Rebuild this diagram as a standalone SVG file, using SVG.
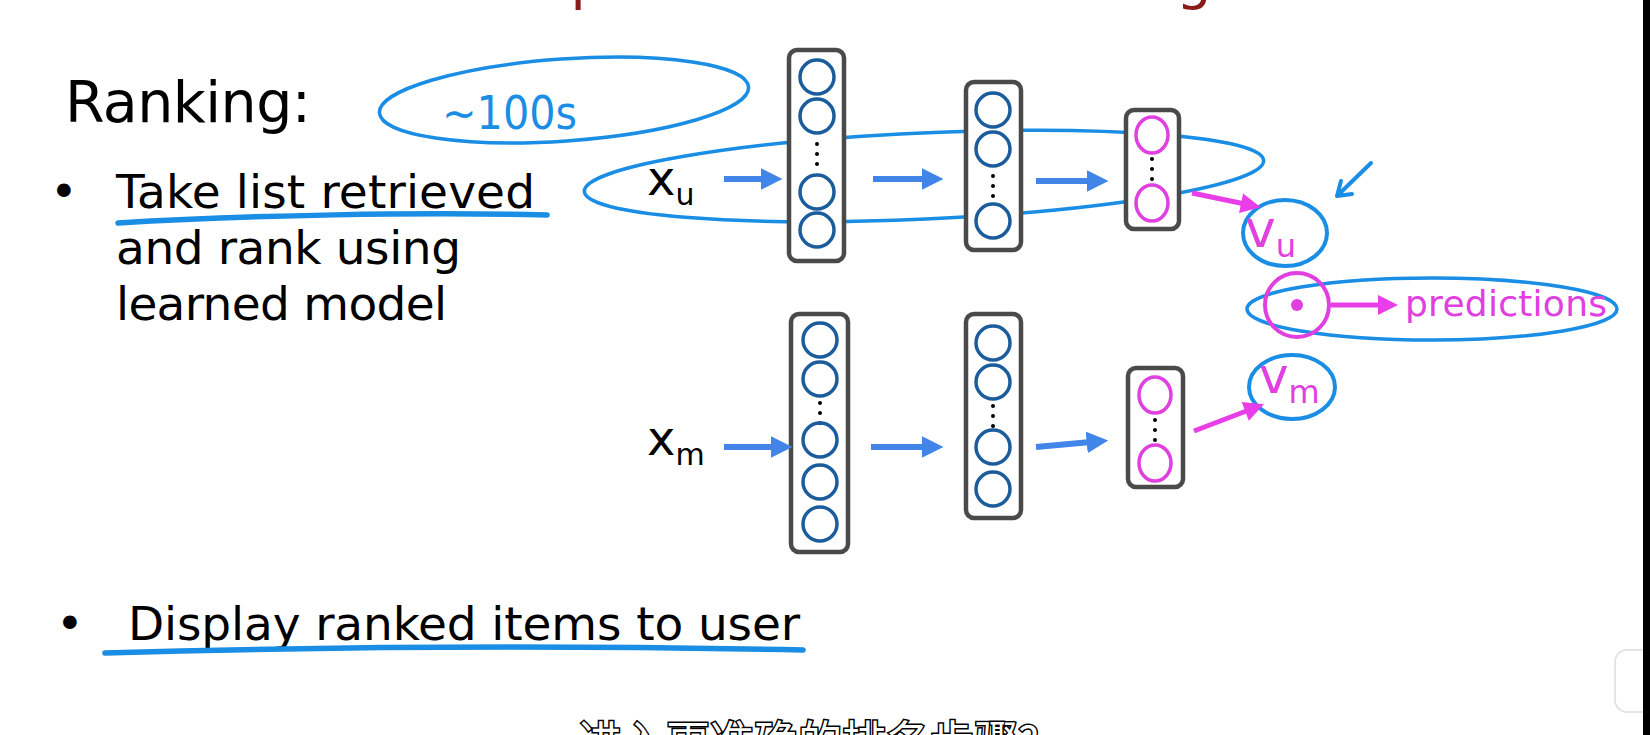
<svg xmlns="http://www.w3.org/2000/svg" width="1650" height="735" viewBox="0 0 1650 735">
<style>
.txt{font-family:"DejaVu Sans","Liberation Sans",sans-serif;fill:#000}
.box{fill:#fff;stroke:#4a4a4a;stroke-width:4.5}
.nb{fill:none;stroke:#1a5c9c;stroke-width:3.5}
.nm{fill:none;stroke:#e040e0;stroke-width:3.5}
.dot{fill:#000}
.ink{fill:none;stroke:#1a8de4;stroke-width:3.5;stroke-linecap:round}
.hl{fill:none;stroke:#1a8de4;stroke-width:5.5;stroke-linecap:round}
.ab{fill:none;stroke:#4285e8;stroke-width:6}
.am{fill:none;stroke:#e83ee8;stroke-width:5}
.mg{font-family:"DejaVu Sans","Liberation Sans",sans-serif;fill:#e040e0}
</style>
<defs>
<marker id="hb" viewBox="0 0 10 10" refX="2" refY="5" markerWidth="3.6" markerHeight="3.6" orient="auto" markerUnits="strokeWidth"><path d="M0,0 L10,5 L0,10 z" fill="#4285e8"/></marker>
<marker id="hm" viewBox="0 0 10 10" refX="2" refY="5" markerWidth="4.2" markerHeight="4" orient="auto" markerUnits="strokeWidth"><path d="M0,0 L10,5 L0,10 z" fill="#e83ee8"/></marker>
</defs>
<rect width="1650" height="735" fill="#fff"/>
<text id="title" x="362" y="-2" font-family="DejaVu Sans, sans-serif" font-size="56" fill="#8b1a1a">Two steps: Retrieval &amp; ranking</text>

<g id="left-text">
<text class="txt" x="65" y="122" font-size="57" textLength="246">Ranking:</text>
<text class="txt" x="50" y="208" font-size="47">•</text>
<text class="txt" x="116" y="208" font-size="47" textLength="419">Take list retrieved</text>
<text class="txt" x="116" y="264" font-size="47" textLength="345">and rank using</text>
<text class="txt" x="116" y="320" font-size="47" textLength="331">learned model</text>
<text class="txt" x="56" y="640" font-size="47">•</text>
<text class="txt" x="128" y="640" font-size="47" textLength="672">Display ranked items to user</text>
</g>

<g id="annotations">
<path class="hl" d="M118,223 C250,215 420,212 547,215"/>
<path class="hl" d="M105,653 Q450,643 803,650"/>
<ellipse class="ink" cx="564" cy="100" rx="185" ry="41" transform="rotate(-4 564 100)"/>
<text x="442" y="129" font-family="DejaVu Sans, sans-serif" font-size="46" font-weight="400" fill="#1a8de4" textLength="135" lengthAdjust="spacingAndGlyphs">~100s</text>
<ellipse class="ink" cx="924" cy="176" rx="340" ry="43" transform="rotate(-2.6 924 176)"/>
<ellipse class="ink" cx="1432" cy="309" rx="185" ry="31"/>
<path class="ink" d="M1371,163 L1337,196 M1337,196 L1341,181 M1337,196 L1352,194" style="stroke-width:4"/>
</g>

<g id="user-input"><text class="txt" x="647" y="195" font-size="48">x<tspan font-size="30" dy="10">u</tspan></text></g>
<g id="movie-input"><text class="txt" x="647" y="455" font-size="48">x<tspan font-size="30" dy="10">m</tspan></text></g>

<g id="user-layer1">
<rect class="box" x="789" y="50" width="55" height="211" rx="8"/>
<circle class="nb" cx="817" cy="77" r="17"/><circle class="nb" cx="817" cy="116" r="17"/>
<circle class="dot" cx="817" cy="144" r="2"/><circle class="dot" cx="817" cy="154" r="2"/><circle class="dot" cx="817" cy="164" r="2"/>
<circle class="nb" cx="817" cy="192" r="17"/><circle class="nb" cx="817" cy="230" r="17"/>
</g>
<g id="user-layer2">
<rect class="box" x="966" y="82" width="55" height="168" rx="8"/>
<circle class="nb" cx="993" cy="110" r="17"/><circle class="nb" cx="993" cy="149" r="17"/>
<circle class="dot" cx="993" cy="176" r="2"/><circle class="dot" cx="993" cy="186" r="2"/><circle class="dot" cx="993" cy="196" r="2"/>
<circle class="nb" cx="993" cy="221" r="17"/>
</g>
<g id="user-layer3">
<rect class="box" x="1126" y="110" width="53" height="119" rx="8"/>
<ellipse class="nm" cx="1152" cy="135" rx="16" ry="18"/>
<circle class="dot" cx="1152" cy="159" r="2"/><circle class="dot" cx="1152" cy="169" r="2"/><circle class="dot" cx="1152" cy="179" r="2"/>
<ellipse class="nm" cx="1152" cy="203" rx="16" ry="18"/>
</g>

<g id="movie-layer1">
<rect class="box" x="791" y="314" width="57" height="238" rx="8"/>
<circle class="nb" cx="820" cy="340" r="17"/><circle class="nb" cx="820" cy="379" r="17"/>
<circle class="dot" cx="820" cy="403" r="2"/><circle class="dot" cx="820" cy="413" r="2"/><circle class="dot" cx="820" cy="423" r="2"/>
<circle class="nb" cx="820" cy="440" r="17"/><circle class="nb" cx="820" cy="482" r="17"/><circle class="nb" cx="820" cy="524" r="17"/>
</g>
<g id="movie-layer2">
<rect class="box" x="966" y="314" width="55" height="204" rx="8"/>
<circle class="nb" cx="993" cy="343" r="17"/><circle class="nb" cx="993" cy="382" r="17"/>
<circle class="dot" cx="993" cy="406" r="2"/><circle class="dot" cx="993" cy="416" r="2"/><circle class="dot" cx="993" cy="426" r="2"/>
<circle class="nb" cx="993" cy="447" r="17"/><circle class="nb" cx="993" cy="489" r="17"/>
</g>
<g id="movie-layer3">
<rect class="box" x="1128" y="368" width="55" height="119" rx="8"/>
<ellipse class="nm" cx="1155" cy="395" rx="16" ry="18"/>
<circle class="dot" cx="1155" cy="420" r="2"/><circle class="dot" cx="1155" cy="430" r="2"/><circle class="dot" cx="1155" cy="440" r="2"/>
<ellipse class="nm" cx="1155" cy="463" rx="16" ry="18"/>
</g>

<g id="vu">
<ellipse class="ink" cx="1285" cy="233" rx="42" ry="33" style="stroke-width:4"/>
<text class="mg" x="1245" y="247" font-size="52">v<tspan font-size="32" dy="10">u</tspan></text>
</g>
<g id="vm">
<ellipse class="ink" cx="1292" cy="387" rx="43" ry="32" style="stroke-width:4"/>
<text class="mg" x="1259" y="393" font-size="50">v<tspan font-size="32" dy="10">m</tspan></text>
</g>
<g id="dot-product">
<circle class="nm" cx="1297" cy="305" r="32" style="stroke-width:4"/>
<circle cx="1297" cy="305" r="6" fill="#e040e0"/>
</g>
<g id="predictions"><text class="mg" x="1405" y="316" font-size="36" textLength="202">predictions</text></g>

<g id="connectors">
<line class="ab" x1="724" y1="179" x2="765" y2="179" marker-end="url(#hb)"/>
<line class="ab" x1="873" y1="179" x2="926" y2="179" marker-end="url(#hb)"/>
<line class="ab" x1="1036" y1="181" x2="1091" y2="181" marker-end="url(#hb)"/>
<line class="ab" x1="724" y1="447" x2="775" y2="447" marker-end="url(#hb)"/>
<line class="ab" x1="871" y1="447" x2="926" y2="447" marker-end="url(#hb)"/>
<line class="ab" x1="1036" y1="447" x2="1091" y2="442" marker-end="url(#hb)"/>
<line class="am" x1="1192" y1="193" x2="1245" y2="204" marker-end="url(#hm)"/>
<line class="am" x1="1194" y1="431" x2="1249" y2="410" marker-end="url(#hm)"/>
<line class="am" x1="1331" y1="305" x2="1382" y2="305" marker-end="url(#hm)"/>
</g>

<text id="subtitle" x="578" y="758" font-family="Noto Sans CJK SC, sans-serif" font-size="44" fill="#fff" stroke="#000" stroke-width="3" paint-order="stroke">进入更准确的排名步骤?</text>
<rect x="1615" y="650" width="45" height="62" rx="12" fill="#fff" stroke="#ddd" stroke-width="1.5"/>
<rect x="1643" y="0" width="7" height="735" fill="#000"/>
</svg>
